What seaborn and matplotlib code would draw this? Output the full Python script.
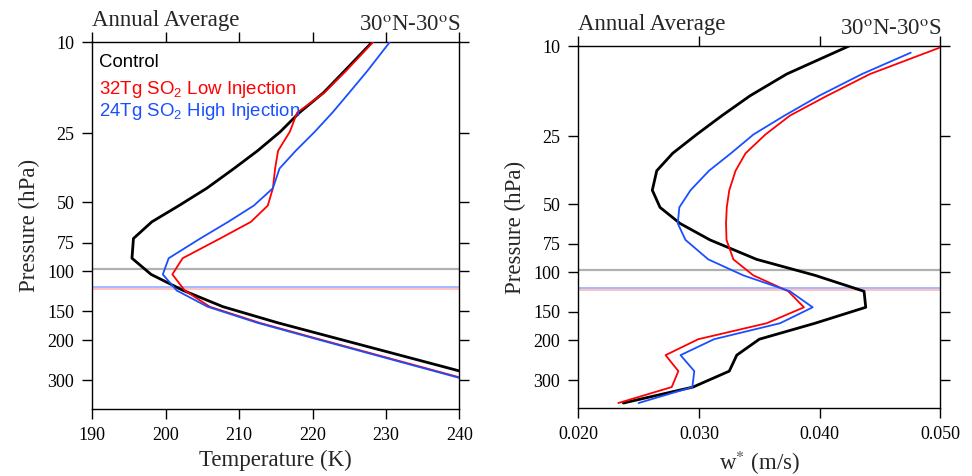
import numpy as np
import pandas as pd
import matplotlib
matplotlib.use("Agg")
import matplotlib.pyplot as plt
import seaborn as sns

# Model pressure levels (hPa)
pressure = [10.0, 13.3, 16.6, 20.3, 24.6, 29.8, 35.6, 43.4, 51.7, 60.9, 72.0,
            87.8, 103.3, 121.5, 143.0, 168.2, 197.9, 232.8, 273.9, 322.2, 379.1]

# Temperature profiles (K), 30N-30S annual average
temp_control = [228.1, 224.4, 221.5, 218.2, 215.6, 212.5, 209.3, 205.6, 201.8, 198.1, 195.6,
                195.4, 198.0, 202.4, 207.8, 215.3, 223.6, 231.9, 240.2, 248.5, 256.6]
temp_low = [228.2, 224.6, 221.6, 217.9, 216.9, 215.3, 214.9, 214.6, 213.9, 211.6, 207.4,
            202.3, 200.9, 202.6, 206.0, 212.8, 220.8, 228.9, 237.0, 245.1, 253.2]
temp_high = [230.5, 227.5, 225.0, 222.7, 220.3, 217.7, 215.5, 214.6, 212.0, 208.5, 204.7,
             200.4, 199.6, 201.5, 205.7, 212.5, 220.5, 228.6, 236.7, 244.8, 252.9]

# Residual vertical velocity w* (m/s)
w_control = [0.04243, 0.03727, 0.03423, 0.03191, 0.02981, 0.02782, 0.02650, 0.02613, 0.02677,
             0.02843, 0.03091, 0.03478, 0.03962, 0.04368, 0.04382, 0.03962, 0.03500, 0.03313,
             0.03251, 0.02950, 0.02373]
w_low = [0.05030, 0.04417, 0.04061, 0.03754, 0.03551, 0.03386, 0.03303, 0.03251, 0.03230,
         0.03224, 0.03228, 0.03285, 0.03450, 0.03740, 0.03870, 0.03561, 0.02994, 0.02723,
         0.02829, 0.02774, 0.02331]
pressure_w_high = [10.7] + pressure[1:]
w_high = [0.04755, 0.04351, 0.03995, 0.03709, 0.03452, 0.03265, 0.03083, 0.02930, 0.02837,
          0.02824, 0.02888, 0.03077, 0.03367, 0.03754, 0.03942, 0.03672, 0.03125, 0.02847,
          0.02961, 0.02945, 0.02499]

# Tropopause pressures (hPa)
trop_control = 97.5
trop_high = 117.0
trop_low = 119.5

series_names = ["Control", "32Tg SO$_2$ Low Injection", "24Tg SO$_2$ High Injection"]
series_colors = ["black", "#ff0000", "#1a4fff"]
series_widths = [2.0, 1.3, 1.3]

yticks = [10, 25, 50, 75, 100, 150, 200, 300]

sns.set_theme(style="ticks")
plt.rcParams["font.family"] = ["Liberation Serif", "DejaVu Serif"]
plt.rcParams["mathtext.fontset"] = "custom"
plt.rcParams["mathtext.rm"] = "Liberation Sans"
plt.rcParams["axes.edgecolor"] = "black"
plt.rcParams["axes.linewidth"] = 1.0

fig = plt.figure(figsize=(9.72, 4.76), dpi=100)
ax1 = fig.add_axes([0.0950, 0.1408, 0.3776, 0.7704])
ax2 = fig.add_axes([0.5950, 0.1422, 0.3724, 0.7611])

temp_df = pd.DataFrame({"p": pressure, "Control": temp_control,
                        "Low": temp_low, "High": temp_high})
w_df = pd.DataFrame({"p": pressure, "Control": w_control, "Low": w_low})
w_high_df = pd.DataFrame({"p": pressure_w_high, "High": w_high})


def style_axes(ax, xticks, xlabels, xlim, xlabel):
    ax.set_yscale("log")
    ax.set_ylim(400, 10)
    ax.set_xlim(*xlim)
    ax.set_yticks(yticks)
    ax.set_yticklabels([str(t) for t in yticks])
    ax.yaxis.set_minor_locator(matplotlib.ticker.NullLocator())
    ax.set_xticks(xticks)
    ax.set_xticklabels(xlabels)
    ax.tick_params(axis="both", which="major", direction="out", length=7, width=1,
                   labelsize=13, color="black", labelcolor="black", pad=6,
                   top=True, right=True, labeltop=False, labelright=False)
    ax.set_xlabel(xlabel, fontsize=16.5, labelpad=4)
    ax.set_ylabel("Pressure (hPa)", fontsize=16.5, labelpad=5)
    for sp in ax.spines.values():
        sp.set_visible(True)
        sp.set_color("black")
    ax.text(0.0, 1.0445, "Annual Average", transform=ax.transAxes, fontsize=16.5,
            ha="left", va="baseline")
    ax.text(1.003, 1.031, r"30$^{\mathrm{o}}$N-30$^{\mathrm{o}}$S", transform=ax.transAxes,
            fontsize=16.5, ha="right", va="baseline", math_fontfamily="stix")


# Tropopause reference lines
for ax in (ax1, ax2):
    ax.axhline(trop_control, color="#b0b0b0", lw=1.6, zorder=1)
    ax.axhline(trop_high, color="#8aa6ff", lw=1.1, zorder=1)
    ax.axhline(trop_low, color="#ffb0b0", lw=1.1, zorder=1)

# Temperature panel
for key, col, lw in zip(["Control", "Low", "High"], series_colors, series_widths):
    sns.lineplot(data=temp_df, x=key, y="p", ax=ax1, sort=False, estimator=None,
                 color=col, lw=lw, zorder=3)

# w* panel
sns.lineplot(data=w_df, x="Control", y="p", ax=ax2, sort=False, estimator=None,
             color=series_colors[0], lw=series_widths[0], zorder=3)
sns.lineplot(data=w_df, x="Low", y="p", ax=ax2, sort=False, estimator=None,
             color=series_colors[1], lw=series_widths[1], zorder=3)
sns.lineplot(data=w_high_df, x="High", y="p", ax=ax2, sort=False, estimator=None,
             color=series_colors[2], lw=series_widths[2], zorder=3)

style_axes(ax1, [190, 200, 210, 220, 230, 240], ["190", "200", "210", "220", "230", "240"],
           (190, 240), "Temperature (K)")
style_axes(ax2, [0.02, 0.03, 0.04, 0.05], ["0.020", "0.030", "0.040", "0.050"],
           (0.02, 0.05), r"w$^{*}$ (m/s)")
ax2.xaxis.label.set_math_fontfamily("stix")

# Legend text in the temperature panel
legend_y = [0.9335, 0.859, 0.799]
for name, col, yy in zip(series_names, series_colors, legend_y):
    ax1.text(0.018, yy, name, transform=ax1.transAxes, color=col, fontsize=13.4,
             family=["Liberation Sans", "DejaVu Sans"], ha="left", va="baseline")

fig.savefig("out.png", dpi=100)
